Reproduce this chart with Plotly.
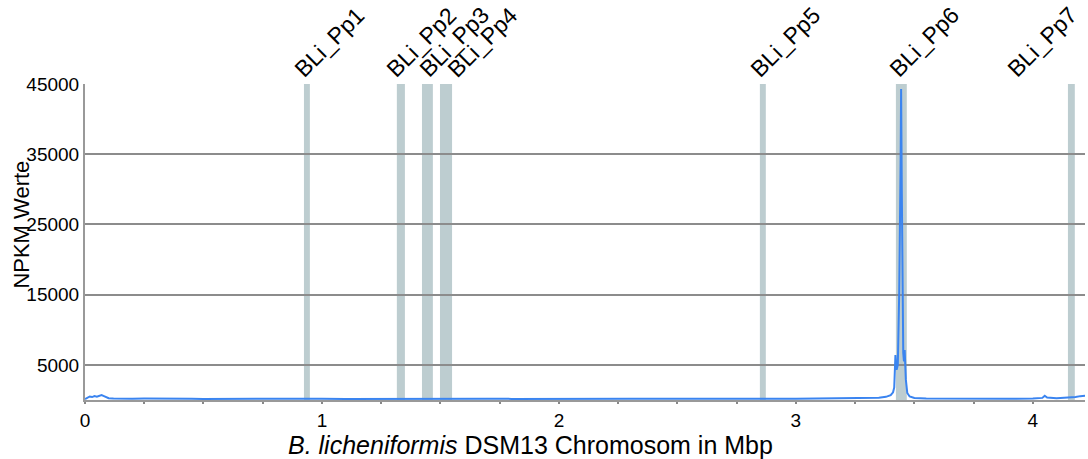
import plotly.graph_objects as go

# Chromosome position (Mbp) and NPKM values
pos_mbp = [0.00, 0.01, 0.02, 0.03, 0.04, 0.05, 0.06, 0.07, 0.08, 0.09, 0.10, 0.12, 0.15, 0.20,
           0.25, 0.30, 0.35, 0.40, 0.45, 0.50, 0.60, 0.70, 0.80, 0.90, 1.00, 1.10, 1.20, 1.30,
           1.40, 1.50, 1.60, 1.70, 1.80, 1.90, 2.00, 2.10, 2.20, 2.30, 2.40, 2.50, 2.60, 2.70,
           2.80, 2.90, 3.00, 3.10, 3.20, 3.30, 3.35, 3.38, 3.40, 3.41, 3.415, 3.42, 3.425, 3.43,
           3.436, 3.442, 3.444, 3.447, 3.450, 3.453, 3.456, 3.459, 3.464, 3.470, 3.48, 3.50,
           3.55, 3.60, 3.70, 3.80, 3.90, 4.00, 4.04, 4.05, 4.06, 4.10, 4.15, 4.18, 4.20, 4.22]
npkm = [130, 350, 500, 420, 560, 480, 620, 700, 560, 380, 250, 200, 230, 180,
        200, 170, 190, 150, 170, 160, 180, 150, 170, 160, 180, 150, 170, 160,
        180, 150, 170, 190, 160, 180, 200, 170, 160, 180, 170, 190, 160, 180,
        170, 190, 180, 200, 210, 260, 330, 450, 700, 1100, 1800, 6400, 4300, 5000,
        15300, 34300, 44300, 29600, 15300, 6700, 5500, 7100, 2900, 1000, 500, 280,
        220, 200, 190, 200, 180, 210, 300, 600, 350, 250, 300, 420, 550, 600]

# Prophage regions (start, end in Mbp)
region_names = ["BLi_Pp1", "BLi_Pp2", "BLi_Pp3", "BLi_Pp4", "BLi_Pp5", "BLi_Pp6", "BLi_Pp7"]
region_start = [0.924, 1.316, 1.422, 1.498, 2.848, 3.422, 4.148]
region_end = [0.949, 1.350, 1.468, 1.549, 2.873, 3.468, 4.177]

y_ticks = [5000, 15000, 25000, 35000, 45000]
x_tickvals = [i * 0.25 for i in range(17)]
x_ticktext = [str(int(v)) if v == int(v) else "" for v in x_tickvals]

FONT = "Liberation Sans, Arial, Helvetica, sans-serif"
BAND = "#bdcdd0"
GRID = "#8c8c8c"

# label nudges (pixels) so labels stay readable / inside the picture
label_xshift = {"BLi_Pp2": -22, "BLi_Pp3": -16, "BLi_Pp4": -6, "BLi_Pp7": -72}

fig = go.Figure()
fig.add_trace(go.Scatter(x=pos_mbp, y=npkm, mode="lines",
                         line=dict(color="#3a84f0", width=2), hoverinfo="skip",
                         showlegend=False))

for name, s, e in zip(region_names, region_start, region_end):
    fig.add_shape(type="rect", xref="x", yref="paper", x0=s, x1=e, y0=0, y1=1,
                  fillcolor=BAND, line=dict(width=0), layer="below")
    fig.add_annotation(x=(s + e) / 2, xref="x", y=1, yref="paper", text=name,
                       textangle=-45, showarrow=False, xanchor="left", yanchor="bottom",
                       xshift=label_xshift.get(name, -20), yshift=-1,
                       font=dict(family=FONT, size=23, color="black"))

fig.add_annotation(text="NPKM Werte", xref="paper", yref="paper", x=-0.063, y=0.555,
                   textangle=-90, showarrow=False, xanchor="center", yanchor="middle",
                   font=dict(family=FONT, size=22, color="black"))
fig.add_annotation(text="<i>B. licheniformis</i> DSM13 Chromosom in Mbp", xref="paper",
                   yref="paper", x=0.445, y=-0.141, showarrow=False, xanchor="center",
                   yanchor="middle", font=dict(family=FONT, size=25, color="black"))

fig.update_layout(
    width=1088, height=459,
    margin=dict(l=85, r=3, t=84, b=59),
    plot_bgcolor="white", paper_bgcolor="white",
    font=dict(family=FONT, size=19, color="black"),
    xaxis=dict(range=[0, 4.22], tickvals=x_tickvals, ticktext=x_ticktext,
               showgrid=False, zeroline=False, showline=True, linecolor="#999999",
               linewidth=2, ticks="outside", ticklen=2, tickwidth=2, tickcolor="#888888",
               tickfont=dict(family=FONT, size=19, color="black")),
    yaxis=dict(range=[0, 45000], tickvals=y_ticks, ticktext=[str(v) for v in y_ticks],
               showgrid=True, gridcolor=GRID, gridwidth=2, zeroline=False,
               showline=True, linecolor="#999999", linewidth=2, ticks="",
               tickfont=dict(family=FONT, size=19, color="black")),
)

fig.write_html("out.html")
